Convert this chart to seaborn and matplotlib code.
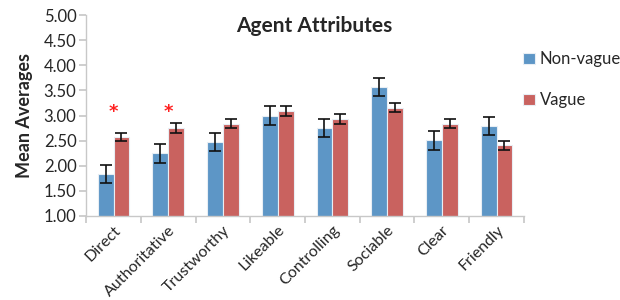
import numpy as np
import pandas as pd
import matplotlib
matplotlib.use("Agg")
import matplotlib.pyplot as plt
import seaborn as sns

categories = ["Direct", "Authoritative", "Trustworthy", "Likeable",
              "Controlling", "Sociable", "Clear", "Friendly"]
non_vague = [1.83, 2.25, 2.47, 3.00, 2.75, 3.57, 2.51, 2.79]
non_vague_err = [0.18, 0.19, 0.18, 0.18, 0.18, 0.18, 0.19, 0.18]
vague = [2.57, 2.75, 2.84, 3.09, 2.93, 3.15, 2.84, 2.41]
vague_err = [0.085, 0.10, 0.09, 0.09, 0.09, 0.09, 0.09, 0.09]
significant = ["Direct", "Authoritative"]
series = ["Non-vague", "Vague"]

sns.set_theme(style="white")
plt.rcParams['font.family'] = ['Lato', 'DejaVu Sans']

df = pd.DataFrame({
    "attr": categories * 2,
    "group": ["Non-vague"] * len(categories) + ["Vague"] * len(categories),
    "value": non_vague + vague,
    "err": non_vague_err + vague_err,
})

fig, ax = plt.subplots(figsize=(6.2, 3.0), dpi=100)
fig.subplots_adjust(left=0.139, right=0.845, top=0.95, bottom=0.28)

colors = {"Non-vague": "#5d96c6", "Vague": "#c9625f"}
sns.barplot(data=df, x="attr", y="value", hue="group", palette=colors,
            width=0.58, gap=0, edgecolor="#e8eef4", linewidth=0.8,
            saturation=1, ax=ax, errorbar=None)

# error bars from the bar containers
for cont, errs in zip(ax.containers, [non_vague_err, vague_err]):
    xs = [p.get_x() + p.get_width() / 2 for p in cont.patches]
    ys = [p.get_height() for p in cont.patches]
    ax.errorbar(xs, ys, yerr=errs, fmt="none", ecolor="#111111",
                elinewidth=1.2, capsize=4, capthick=1.2, zorder=5)

# significance stars
for c in significant:
    ax.text(categories.index(c), 3.06, "*", color="#ff2020", ha="center",
            va="center", fontsize=13, fontweight="bold", family="DejaVu Sans")

ax.set_ylim(1.0, 5.0)
ax.set_yticks(np.arange(1.0, 5.01, 0.5))
ax.set_yticklabels([f"{v:.2f}" for v in np.arange(1.0, 5.01, 0.5)], fontsize=12)
ax.set_xlim(-0.5, len(categories) - 0.5)
ax.set_xticks(np.arange(-0.5, len(categories), 1.0), minor=False)
ax.set_xticklabels([])
ax.set_xticks(np.arange(len(categories)), minor=True)
ax.set_xticklabels(categories, minor=True, rotation=45, ha="right",
                   rotation_mode="anchor", fontsize=11.5)
ax.tick_params(axis="x", which="minor", length=0, pad=5)
ax.tick_params(axis="x", which="major", length=5, color="#c8c8c8", direction="out")
ax.tick_params(axis="y", length=5, color="#c8c8c8", direction="out", pad=2)
ax.tick_params(bottom=True, left=True)

for s in ["top", "right"]:
    ax.spines[s].set_visible(False)
for s in ["left", "bottom"]:
    ax.spines[s].set_color("#c8c8c8")
    ax.spines[s].set_linewidth(1.0)

ax.set_xlabel("")
ax.set_ylabel("Mean Averages", fontsize=13, fontweight="bold", labelpad=8)
fig.text(0.507, 0.915, "Agent Attributes", ha="center", va="center",
         fontsize=15, fontweight="bold")

handles, labels = ax.get_legend_handles_labels()
ax.legend(handles, labels, loc="upper left", bbox_to_anchor=(0.998, 0.82),
          frameon=False, fontsize=12, handlelength=0.7, handleheight=0.7,
          handletextpad=0.3, labelspacing=1.5, borderaxespad=0, borderpad=0)

plt.savefig("out.png", dpi=100)
plt.close()
